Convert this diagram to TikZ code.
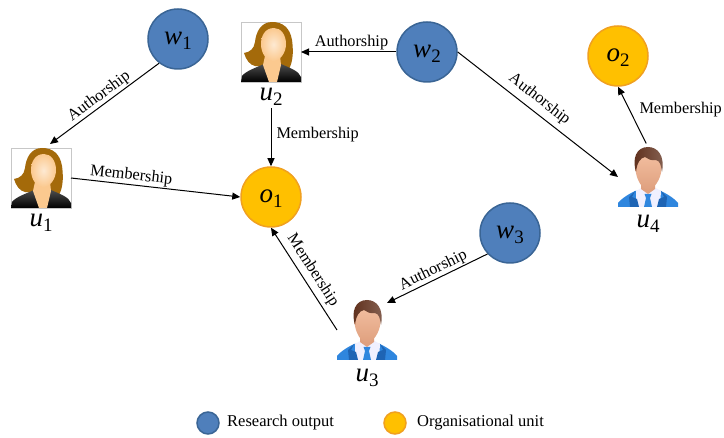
\documentclass[tikz,border=0pt]{standalone}
\usepackage{fontspec}
\setmainfont{Liberation Serif}
\usetikzlibrary{arrows.meta}
\newcommand{\sym}[2]{\raisebox{0pt}[12pt][0pt]{{\fontsize{27}{27}\selectfont\itshape #1}\raisebox{-5pt}{\fontsize{19}{19}\selectfont #2}}}
\definecolor{bluefill}{HTML}{4F7FBB}
\definecolor{blueedge}{HTML}{3A6595}
\definecolor{orfill}{HTML}{FFC000}
\definecolor{oredge}{HTML}{F0A020}
\definecolor{skin}{HTML}{FBC98F}
\definecolor{hairb}{HTML}{A46A0A}
\definecolor{suit}{HTML}{2F86DE}
\definecolor{suitd}{HTML}{1E64B4}
\definecolor{mskin}{HTML}{F3BFA0}
\definecolor{mskind}{HTML}{DFA07F}
\definecolor{mhair}{HTML}{5E2E1A}
\tikzset{
  x=1pt,y=-1pt,
  wnode/.style={circle,draw=blueedge,line width=1.5pt,fill=bluefill,minimum size=60pt,inner sep=0pt},
  onode/.style={circle,draw=oredge,line width=1.5pt,fill=orfill,minimum size=60pt,inner sep=0pt},
  lw/.style={circle,draw=blueedge,line width=1.5pt,fill=bluefill,minimum size=22pt,inner sep=0pt},
  lo/.style={circle,draw=oredge,line width=1.5pt,fill=orfill,minimum size=22pt,inner sep=0pt},
  person/.style={rectangle,minimum size=60pt,inner sep=0pt,outer sep=0pt},
  plabel/.style={inner sep=0pt,minimum height=26pt,minimum width=30pt},
  conn/.style={draw,line width=1pt,-{Triangle[length=8pt,width=7pt]}},
  edgetext/.style={font=\fontsize{16.3}{18}\selectfont,inner sep=2pt},
  legtext/.style={font=\fontsize{16.5}{18}\selectfont,anchor=west,inner sep=0pt},
  woman/.pic={
    \draw[draw=black!22,line width=0.5pt,fill=white] (0,0) rectangle (60,60);
    \fill[hairb] (31,0) .. controls (20,0) and (15,10) .. (14,20) .. controls (13,27) and (9,30) .. (3,31) .. controls (5,38) and (9,43) .. (14,44) -- (48,47) .. controls (53,38) and (52,25) .. (51,18) .. controls (49,6) and (42,0) .. (31,0) -- cycle;
    \shade[top color=black!70,bottom color=black] (0,60) -- (1,54) .. controls (5,49) and (14,46) .. (23,42) -- (40,42) .. controls (49,46) and (58,49) .. (60,55) -- (60,60) -- cycle;
    \fill[skin] (24,34) -- (39,34) -- (40,43) -- (36,60) -- (28,60) -- (22,43) -- cycle;
    \shade[inner color=skin!40!white,outer color=skin] (33,6) .. controls (24,6) and (20,14) .. (20,22) .. controls (20,32) and (26,39) .. (32,39) .. controls (39,39) and (45,31) .. (45,22) .. controls (45,13) and (40,6) .. (33,6) -- cycle;
  },
  man/.pic={
    \fill[suit] (0,60) -- (0,56) .. controls (3,52) and (9,48) .. (17,44) -- (43,44) .. controls (51,48) and (57,52) .. (60,56) -- (60,60) -- cycle;
    \fill[blue!6!white] (18,44) -- (25,40) -- (36,40) -- (43,44) -- (42,60) -- (18,60) -- cycle;
    \fill[suitd] (17,44) -- (14,50) -- (19,52) -- (21,60) -- (12,60) -- (11,50) -- cycle;
    \fill[suitd] (43,44) -- (46,50) -- (41,52) -- (39,60) -- (48,60) -- (49,50) -- cycle;
    \fill[suit] (26.5,47) -- (33.5,47) -- (32,51) -- (34,60) -- (26,60) -- (28,51) -- cycle;
    \fill[mskind] (23,34) -- (37,34) -- (37,42) -- (30,47) -- (23,42) -- cycle;
    \shade[top color=mskin,bottom color=mskind] (30,6) .. controls (21,6) and (17.5,14) .. (17.5,22) .. controls (18,33) and (25,43) .. (30,43) .. controls (35,43) and (43,33) .. (43.5,22) .. controls (43.5,14) and (39,6) .. (30,6) -- cycle;
    \shade[left color=mhair,right color=mhair!75!white] (18,25) .. controls (14,12) and (18,0) .. (30,0) .. controls (40,0) and (47,9) .. (44,25) .. controls (43,18) and (42,14) .. (38,13) .. controls (33,14) and (30,12) .. (27,10) .. controls (22,11) and (19,16) .. (18,25) -- cycle;
  },
}
\begin{document}
\begin{tikzpicture}
\useasboundingbox (0,0) rectangle (724,438);
\node[wnode] (w1) at (178,39) {\sym{w}{1}};
\node[wnode] (w2) at (427,52) {\sym{w}{2}};
\node[wnode] (w3) at (510,233) {\sym{w}{3}};
\node[onode] (o1) at (271,197) {\sym{o}{1}};
\node[onode] (o2) at (618,56) {\sym{o}{2}};
\node[person] (u1) at (41,178) {};
\node[person] (u2) at (271,52) {};
\node[person] (u3) at (367,330) {};
\node[person] (u4) at (648,177) {};
\coordinate (u1tip) at (50,144);
\coordinate (u3tip) at (387,303);
\pic at (u1.north west) {woman};
\pic at (u2.north west) {woman};
\pic at (u3.north west) {man};
\pic at (u4.north west) {man};
\node[plabel] (lu1) at (41,221) {\sym{u}{1}};
\node[plabel] (lu2) at (271,95) {\sym{u}{2}};
\node[plabel] (lu3) at (367,376) {\sym{u}{3}};
\node[plabel] (lu4) at (648,222) {\sym{u}{4}};
\draw[conn] (w1.232) -- node[edgetext,midway,above,sloped,yshift=-1pt] {Authorship} (u1tip);
\draw[conn] (w2.west) -- node[edgetext,pos=0.47,above] {Authorship} (u2.east);
\draw[conn] (w2.east) -- node[edgetext,pos=0.46,above,sloped,yshift=3pt] {Authorship} (u4.west);
\draw[conn] (lu2.south) -- node[edgetext,right,pos=0.45,xshift=3pt] {Membership} (o1.north);
\draw[conn] (u1.east) -- node[edgetext,pos=0.35,above,sloped,yshift=-1pt] {Membership} (o1.west);
\draw[conn] (u3.west) -- node[edgetext,pos=0.52,above,sloped,yshift=2pt] {Membership} (o1.south);
\draw[conn] (w3.223) -- node[edgetext,midway,above,sloped,yshift=-1pt] {Authorship} (u3tip);
\draw[conn,shorten <=4pt] (u4.north) -- node[edgetext,pos=0.6,right,xshift=7pt,yshift=1pt] {Membership} (o2.south);
\node[lw] (lgw) at (208,423) {};
\node[legtext] (lgwt) at (227,423) {Research output};
\node[lo] (lgo) at (395,423) {};
\node[legtext] (lgot) at (417,423) {Organisational unit};
\end{tikzpicture}
\end{document}
